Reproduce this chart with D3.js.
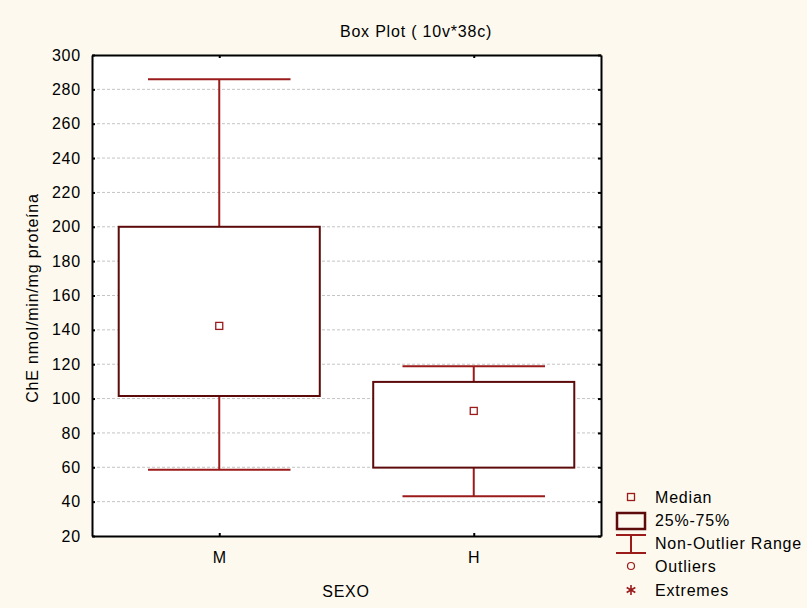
<!DOCTYPE html>
<html>
<head>
<meta charset="utf-8" />
<title>Box Plot</title>
<script src="https://cdnjs.cloudflare.com/ajax/libs/d3/7.8.5/d3.min.js"></script>
<style>
  body { margin: 0; background: #fdf9ee; }
  svg { display: block; font-family: "Liberation Sans", Arial, sans-serif; }
  text { letter-spacing: 0.8px; }
</style>
</head>
<body>
<svg id="chart" width="807" height="608"></svg>
<script>
// data
const groups = ['M', 'H']
const whiskerLow = [58.6, 43.1]
const q1 = [101.5, 59.8]
const median = [142.3, 92.8]
const q3 = [200, 109.7]
const whiskerHigh = [285.9, 118.8]
const yTicks = [20, 40, 60, 80, 100, 120, 140, 160, 180, 200, 220, 240, 260, 280, 300]
const legendItems = ['Median', '25%-75%', 'Non-Outlier Range', 'Outliers', 'Extremes']

const plotL = 92, plotR = 601, plotT = 55, plotB = 536
const boxColor = '#5c0a0a', whiskColor = '#9b1b1b'

const svg = d3.select('#chart')
svg.append('rect').attr('width', 807).attr('height', 608).attr('fill', '#fdf9ee')
svg.append('rect').attr('x', plotL).attr('y', plotT).attr('width', plotR - plotL).attr('height', plotB - plotT).attr('fill', '#fff')

const x = d3.scalePoint().domain(groups).range([plotL, plotR]).padding(0.5)
const y = d3.scaleLinear().domain([20, 300]).range([plotB, plotT])
const step = x.step()
const boxW = step * 0.79, capW = step * 0.56

// grid
svg.append('g').selectAll('line').data(yTicks.slice(1, -1)).enter().append('line')
  .attr('x1', plotL).attr('x2', plotR)
  .attr('y1', d => y(d)).attr('y2', d => y(d))
  .attr('stroke', '#c4c4c4').attr('stroke-dasharray', '3,2').attr('stroke-width', 1)

// axes
const yAxis = d3.axisLeft(y).tickValues(yTicks).tickSizeInner(-3).tickSizeOuter(0).tickPadding(11)
const gy = svg.append('g').attr('transform', `translate(${plotL},0)`).call(yAxis)
const yRight = d3.axisRight(y).tickValues(yTicks).tickSizeInner(-3).tickSizeOuter(0).tickFormat('')
const gyr = svg.append('g').attr('transform', `translate(${plotR},0)`).call(yRight)
const xAxis = d3.axisBottom(x).tickSizeInner(-3).tickSizeOuter(0).tickPadding(16)
const gx = svg.append('g').attr('transform', `translate(0,${plotB})`).call(xAxis)
const xTop = d3.axisTop(x).tickSizeInner(-3).tickSizeOuter(0).tickFormat('')
const gxt = svg.append('g').attr('transform', `translate(0,${plotT})`).call(xTop)

;[gy, gyr, gx, gxt].forEach(g => {
  g.select('.domain').attr('stroke', '#000').attr('stroke-width', 2)
  g.selectAll('.tick line').attr('stroke', '#000').attr('stroke-width', 2)
  g.selectAll('.tick text').attr('fill', '#000').style('font-size', '16px')
    .style('font-family', '"Liberation Sans", Arial, sans-serif')
})

// boxes
groups.forEach((g, i) => {
  const cx = x(g)
  const b = svg.append('g')
  b.append('line').attr('x1', cx).attr('x2', cx).attr('y1', y(whiskerHigh[i])).attr('y2', y(q3[i]))
    .attr('stroke', whiskColor).attr('stroke-width', 2)
  b.append('line').attr('x1', cx).attr('x2', cx).attr('y1', y(q1[i])).attr('y2', y(whiskerLow[i]))
    .attr('stroke', whiskColor).attr('stroke-width', 2)
  b.append('line').attr('x1', cx - capW / 2).attr('x2', cx + capW / 2)
    .attr('y1', y(whiskerHigh[i])).attr('y2', y(whiskerHigh[i]))
    .attr('stroke', whiskColor).attr('stroke-width', 2)
  b.append('line').attr('x1', cx - capW / 2).attr('x2', cx + capW / 2)
    .attr('y1', y(whiskerLow[i])).attr('y2', y(whiskerLow[i]))
    .attr('stroke', whiskColor).attr('stroke-width', 2)
  b.append('rect').attr('x', cx - boxW / 2).attr('width', boxW)
    .attr('y', y(q3[i])).attr('height', y(q1[i]) - y(q3[i]))
    .attr('fill', '#fff').attr('stroke', boxColor).attr('stroke-width', 2)
  b.append('rect').attr('x', cx - 3.5).attr('y', y(median[i]) - 3.5).attr('width', 7).attr('height', 7)
    .attr('fill', '#fff').attr('stroke', whiskColor).attr('stroke-width', 1.3)
})

// titles
svg.append('text').attr('x', 416).attr('y', 37).attr('text-anchor', 'middle')
  .style('font-size', '16px').text('Box Plot ( 10v*38c)')
svg.append('text').attr('x', 346).attr('y', 597).attr('text-anchor', 'middle')
  .style('font-size', '16px').text('SEXO')
svg.append('text').attr('transform', 'translate(38,298) rotate(-90)').attr('text-anchor', 'middle')
  .style('font-size', '16px').text('ChE nmol/min/mg proteína')

// legend
const lx = 631, ly = [497, 520, 543, 566, 590]
const leg = svg.append('g')
leg.append('rect').attr('x', lx - 3.5).attr('y', ly[0] - 3.5).attr('width', 7).attr('height', 7)
  .attr('fill', 'none').attr('stroke', whiskColor).attr('stroke-width', 1.3)
leg.append('rect').attr('x', 617).attr('y', 513).attr('width', 28).attr('height', 16)
  .attr('fill', 'none').attr('stroke', boxColor).attr('stroke-width', 2.5)
leg.append('line').attr('x1', 616).attr('x2', 646).attr('y1', 535).attr('y2', 535).attr('stroke', whiskColor).attr('stroke-width', 2)
leg.append('line').attr('x1', 616).attr('x2', 646).attr('y1', 553).attr('y2', 553).attr('stroke', whiskColor).attr('stroke-width', 2)
leg.append('line').attr('x1', lx).attr('x2', lx).attr('y1', 535).attr('y2', 553).attr('stroke', whiskColor).attr('stroke-width', 2)
leg.append('circle').attr('cx', lx).attr('cy', ly[3]).attr('r', 3.5)
  .attr('fill', 'none').attr('stroke', whiskColor).attr('stroke-width', 1.2)
leg.append('path').attr('transform', `translate(${lx},${ly[4]})`)
  .attr('d', d3.symbol(d3.symbolAsterisk, 70)())
  .attr('fill', 'none').attr('stroke', whiskColor).attr('stroke-width', 1.6)
leg.selectAll('text.lab').data(legendItems).enter().append('text').attr('class', 'lab')
  .attr('x', 655).attr('y', (d, i) => ly[i] + 6)
  .style('font-size', '16px').text(d => d)
</script>
</body>
</html>
